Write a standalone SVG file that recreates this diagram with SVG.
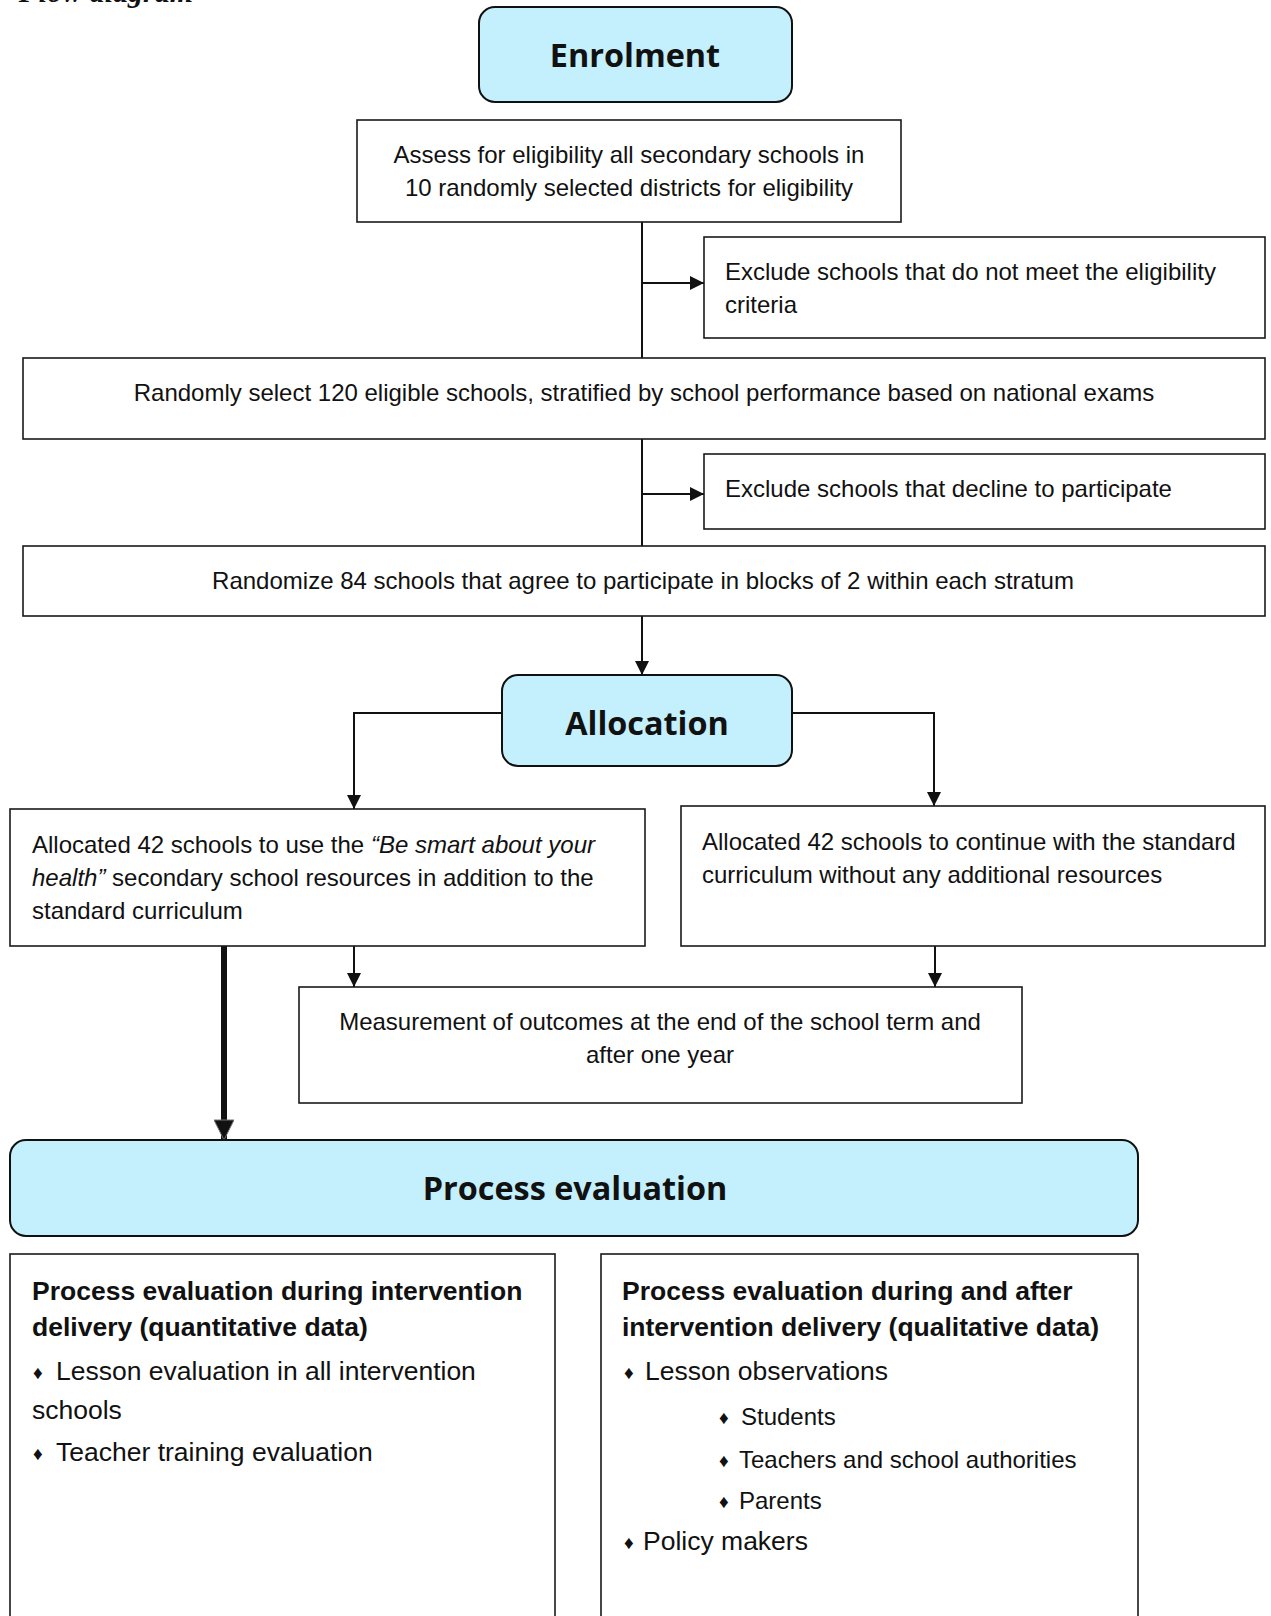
<svg xmlns="http://www.w3.org/2000/svg" width="1271" height="1616" viewBox="0 0 1271 1616">
<style>
.box{fill:#fff;stroke:#1a1a1a;stroke-width:1.6}
.phase{fill:#c4effd;stroke:#111;stroke-width:2}
.t{font-family:"Liberation Sans",Arial,sans-serif;font-size:24px;fill:#111}
.c{text-anchor:middle}
.h{font-family:"Open Sans","Noto Sans",sans-serif;font-weight:bold;font-size:32.4px;fill:#111;text-anchor:middle}
.b{font-family:"Liberation Sans",Arial,sans-serif;font-size:26.5px;fill:#111}
.bb{font-weight:bold}
.s{font-family:"Liberation Sans",Arial,sans-serif;font-size:24px;fill:#111}
.d{font-family:"Liberation Sans",Arial,sans-serif;font-size:19px;fill:#111}
.ln{fill:none;stroke:#111;stroke-width:2}
</style>
<defs>
<marker id="arr" viewBox="0 0 10 10" refX="10" refY="5" markerWidth="15" markerHeight="14" markerUnits="userSpaceOnUse" orient="auto">
<path d="M0,0 L10,5 L0,10 z" fill="#111"/>
</marker>
<marker id="arrB" viewBox="0 0 10 10" refX="10" refY="5" markerWidth="28" markerHeight="20" markerUnits="userSpaceOnUse" orient="auto">
<path d="M0,0 L10,5 L0,10 z" fill="#111" stroke="#777" stroke-width="0.5"/>
</marker>
</defs>

<text x="193" y="1.5" font-family="'Liberation Serif',serif" font-weight="bold" font-style="italic" font-size="30" text-anchor="end" fill="#111">Flow diagram</text>

<g id="connectors">
<line class="ln" x1="642" y1="222" x2="642" y2="358"/>
<line class="ln" x1="642" y1="283" x2="704" y2="283" marker-end="url(#arr)"/>
<line class="ln" x1="642" y1="439" x2="642" y2="546"/>
<line class="ln" x1="642" y1="494" x2="704" y2="494" marker-end="url(#arr)"/>
<line class="ln" x1="642" y1="616" x2="642" y2="675" marker-end="url(#arr)"/>
<path class="ln" d="M502,713 H354 V809" marker-end="url(#arr)"/>
<path class="ln" d="M792,713 H934 V806" marker-end="url(#arr)"/>
<line class="ln" x1="224" y1="946" x2="224" y2="1140" style="stroke-width:6" marker-end="url(#arrB)"/>
<line class="ln" x1="354" y1="938" x2="354" y2="987" marker-end="url(#arr)"/>
<line class="ln" x1="935" y1="944" x2="935" y2="987" marker-end="url(#arr)"/>
</g>

<g id="enrolment">
<rect class="phase" x="479" y="7" width="313" height="95" rx="16"/>
<text class="h" x="635" y="67">Enrolment</text>
</g>

<g id="assess">
<rect class="box" x="357" y="120" width="544" height="102"/>
<text class="t c" x="629" y="163">Assess for eligibility all secondary schools in</text>
<text class="t c" x="629" y="196">10 randomly selected districts for eligibility</text>
</g>

<g id="exclude1">
<rect class="box" x="704" y="237" width="561" height="101"/>
<text class="t" x="725" y="280">Exclude schools that do not meet the eligibility</text>
<text class="t" x="725" y="313">criteria</text>
</g>

<g id="select">
<rect class="box" x="23" y="358" width="1242" height="81"/>
<text class="t c" x="644" y="401">Randomly select 120 eligible schools, stratified by school performance based on national exams</text>
</g>

<g id="exclude2">
<rect class="box" x="704" y="454" width="561" height="75"/>
<text class="t" x="725" y="497">Exclude schools that decline to participate</text>
</g>

<g id="randomize">
<rect class="box" x="23" y="546" width="1242" height="70"/>
<text class="t c" x="643" y="589">Randomize 84 schools that agree to participate in blocks of 2 within each stratum</text>
</g>

<g id="allocation">
<rect class="phase" x="502" y="675" width="290" height="91" rx="16"/>
<text class="h" x="647" y="735">Allocation</text>
</g>

<g id="intervention">
<rect class="box" x="10" y="809" width="635" height="137"/>
<text class="t" x="32" y="853">Allocated 42 schools to use the <tspan font-style="italic">“Be smart about your</tspan></text>
<text class="t" x="32" y="886"><tspan font-style="italic">health”</tspan> secondary school resources in addition to the</text>
<text class="t" x="32" y="919">standard curriculum</text>
</g>

<g id="control">
<rect class="box" x="681" y="806" width="584" height="140"/>
<text class="t" x="702" y="850">Allocated 42 schools to continue with the standard</text>
<text class="t" x="702" y="883">curriculum without any additional resources</text>
</g>

<g id="measurement">
<rect class="box" x="299" y="987" width="723" height="116"/>
<text class="t c" x="660" y="1030">Measurement of outcomes at the end of the school term and</text>
<text class="t c" x="660" y="1063">after one year</text>
</g>

<g id="process">
<rect class="phase" x="10" y="1140" width="1128" height="96" rx="16"/>
<text class="h" x="575" y="1200">Process evaluation</text>
</g>

<g id="quantitative">
<rect class="box" x="10" y="1254" width="545" height="400"/>
<text class="b bb" x="32" y="1300">Process evaluation during intervention</text>
<text class="b bb" x="32" y="1336">delivery (quantitative data)</text>
<text class="d" x="33" y="1379">♦</text>
<text class="b" x="56" y="1380">Lesson evaluation in all intervention</text>
<text class="b" x="32" y="1419">schools</text>
<text class="d" x="33" y="1460">♦</text>
<text class="b" x="56" y="1461">Teacher training evaluation</text>
</g>

<g id="qualitative">
<rect class="box" x="601" y="1254" width="537" height="400"/>
<text class="b bb" x="622" y="1300">Process evaluation during and after</text>
<text class="b bb" x="622" y="1336">intervention delivery (qualitative data)</text>
<text class="d" x="624" y="1379">♦</text>
<text class="b" x="645" y="1380">Lesson observations</text>
<text class="d" x="719" y="1424">♦</text>
<text class="s" x="741" y="1425">Students</text>
<text class="d" x="719" y="1467">♦</text>
<text class="s" x="739" y="1468">Teachers and school authorities</text>
<text class="d" x="719" y="1508">♦</text>
<text class="s" x="739" y="1509">Parents</text>
<text class="d" x="624" y="1549">♦</text>
<text class="b" x="643" y="1550">Policy makers</text>
</g>
</svg>
